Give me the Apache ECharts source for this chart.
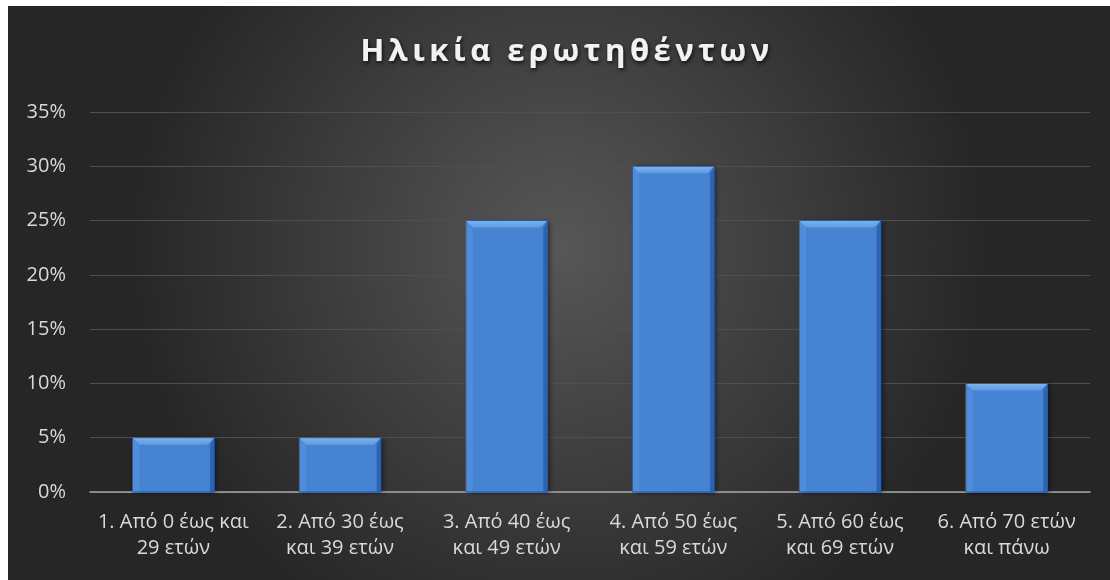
<!DOCTYPE html>
<html><head><meta charset="utf-8">
<script src="https://cdn.jsdelivr.net/npm/echarts@6/dist/echarts.min.js"></script>
<style>
html,body{margin:0;padding:0;background:#fff;width:1110px;height:580px;overflow:hidden}
#c{position:absolute;left:8px;top:6px;width:1102px;height:574px}
#t{position:absolute;left:8px;top:6px;width:1102px;height:90px;pointer-events:none}
#t text{letter-spacing:4.5px}
</style></head><body><div id="c"></div><div id="t"></div>
<script>
const title = 'Ηλικία ερωτηθέντων';
const categories = ['1. Από 0 έως και\n29 ετών','2. Από 30 έως\nκαι 39 ετών','3. Από 40 έως\nκαι 49 ετών','4. Από 50 έως\nκαι 59 ετών','5. Από 60 έως\nκαι 69 ετών','6. Από 70 ετών\nκαι πάνω'];
const values = [5, 5, 25, 30, 25, 10];
const yTicks = {min: 0, max: 35, interval: 5};

const font = '"Open Sans", Lato, sans-serif';
const chart = echarts.init(document.getElementById('c'));

function renderBar(params, api) {
  const top = api.coord([api.value(0), api.value(1)]);
  const base = api.coord([api.value(0), 0]);
  const bw = api.size([1, 0])[0] * 0.49;
  const l = top[0] - bw / 2, r = l + bw, t = top[1], b = base[1];
  const bv = Math.min(7, (b - t) / 2);
  return {type: 'group', children: [
    {type: 'rect', shape: {x: l, y: t, width: bw, height: b - t},
      style: {fill: '#4683d3', shadowColor: 'rgba(0,0,0,0.55)', shadowBlur: 5, shadowOffsetX: 2, shadowOffsetY: 1}},
    {type: 'polygon', shape: {points: [[l, t], [l + bv, t + bv], [l + bv, b], [l, b]]},
      style: {fill: '#4f8ddb'}},
    {type: 'polygon', shape: {points: [[r, t], [r, b], [r - bv * 0.6, b], [r - bv * 0.6, t + bv]]},
      style: {fill: '#2f63ad'}},
    {type: 'polygon', shape: {points: [[l, t], [r, t], [r - bv, t + bv], [l + bv, t + bv]]},
      style: {fill: {type: 'linear', x: 0, y: 0, x2: 0, y2: 1, colorStops: [
        {offset: 0, color: '#7db4f1'}, {offset: 1, color: '#5e9ae3'}]}}},
    {type: 'rect', shape: {x: l, y: t, width: bw, height: b - t},
      style: {fill: 'none', stroke: '#2b5a9c', lineWidth: 1}}
  ]};
}

chart.setOption({
  backgroundColor: {type:'radial', x:0.5, y:0.42, r:0.75, colorStops:[{offset:0,color:'#575757'},{offset:1,color:'#262626'}]},
  grid: {left: 82, right: 20, top: 106, bottom: 88},
  xAxis: {type:'category', data: categories,
    axisLine:{lineStyle:{color:'#a6a6a6', width:1.5}}, axisTick:{show:false},
    axisLabel:{color:'#d9d9d9', fontSize:20, fontFamily: font, lineHeight:26, margin:17, interval:0}},
  yAxis: {type:'value', min: yTicks.min, max: yTicks.max, interval: yTicks.interval,
    axisLine:{show:false}, axisTick:{show:false},
    splitLine:{lineStyle:{color:'#4f4f4f', width:1}},
    axisLabel:{color:'#d9d9d9', fontSize:20, fontFamily: font, margin:24, formatter: v => v + '%'}},
  series: [{type:'custom', data: values.map((v, i) => [i, v]), encode:{x:0, y:1}, renderItem: renderBar}]
});

const tchart = echarts.init(document.getElementById('t'), null, {renderer: 'svg'});
tchart.setOption({
  title: {text: title, left: 554, textAlign: 'center', top: 22,
    textStyle: {color:'#f2f2f2', fontSize: 31, fontWeight:'bold', fontFamily: font,
      textShadowColor:'rgba(0,0,0,0.8)', textShadowBlur:4, textShadowOffsetX:1, textShadowOffsetY:2}}
});
</script></body></html>
